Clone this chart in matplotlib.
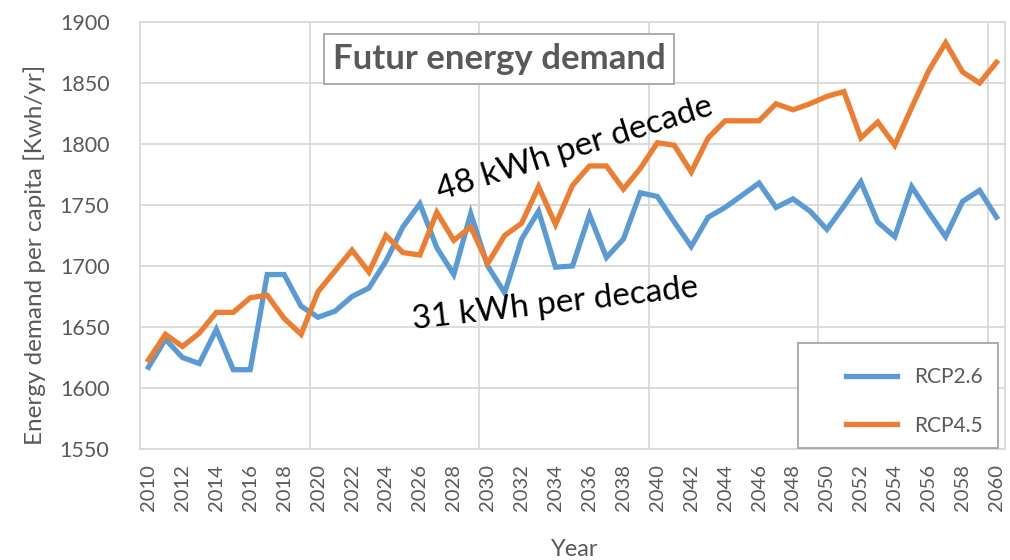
import matplotlib
matplotlib.use("Agg")
import matplotlib.pyplot as plt
import numpy as np
from matplotlib.patches import Rectangle

plt.rcParams['font.family'] = ['Lato', 'DejaVu Sans']

# data
years = np.arange(2010, 2061)

rcp26 = [1617, 1640, 1625, 1620, 1648, 1615, 1615, 1693, 1693, 1667,
         1658, 1663, 1675, 1682, 1704, 1732, 1751, 1715, 1693, 1743,
         1700, 1678, 1722, 1745, 1699, 1700, 1742, 1707, 1722, 1760,
         1757, 1736, 1716, 1740, 1748, 1758, 1768, 1748, 1755, 1745,
         1730, 1749, 1769, 1736, 1724, 1765, 1744, 1724, 1753, 1762,
         1740]

rcp45 = [1623, 1644, 1634, 1645, 1662, 1662, 1674, 1676, 1657, 1644,
         1679, 1696, 1713, 1695, 1725, 1711, 1709, 1744, 1721, 1732,
         1702, 1725, 1735, 1765, 1734, 1766, 1782, 1782, 1763, 1780,
         1801, 1799, 1777, 1805, 1819, 1819, 1819, 1833, 1828, 1833,
         1839, 1843, 1805, 1818, 1799, 1830, 1860, 1883, 1859, 1850,
         1867]

series_names = ['RCP2.6', 'RCP4.5']
colors = ['#5b9bd5', '#ed7d31']
grey = '#595959'
gridc = '#d9d9d9'

fig = plt.figure(figsize=(10.1, 5.6), dpi=100)
ax = fig.add_axes([140/1010, 1-449/560, (1005-140)/1010, (449-22)/560])

ax.plot(years, rcp26, color=colors[0], lw=3.8, label=series_names[0], solid_joinstyle='miter')
ax.plot(years, rcp45, color=colors[1], lw=3.8, label=series_names[1], solid_joinstyle='miter')

ax.set_xlim(2009.5, 2060.5)
ax.set_ylim(1550, 1900)
ax.set_yticks(np.arange(1550, 1901, 50))
ax.set_xticks(years[::2])
ax.set_xticklabels([str(y) for y in years[::2]], rotation=90)
ax.set_xticks(np.arange(2019.5, 2061, 10), minor=True)
ax.tick_params(axis='y', length=0, pad=22, labelsize=15.5, labelcolor=grey)
ax.tick_params(axis='x', which='major', length=0, pad=11, labelsize=14.5, labelcolor=grey)
ax.tick_params(axis='x', which='minor', length=0)
ax.grid(axis='y', color=gridc, lw=1.3)
ax.grid(axis='x', which='minor', color=gridc, lw=1.3)
ax.set_axisbelow(True)
for s in ax.spines.values():
    s.set_color(gridc)
    s.set_linewidth(1.3)

fig.text(35/1010, 1-255/560, 'Energy demand per capita [Kwh/yr]', rotation=90,
         ha='center', va='center', fontsize=17.5, color=grey)
fig.text(575/1010, 1-549/560, 'Year', ha='center', va='center', fontsize=17, color=grey)

# title box
fig.text(499/1010, 1-59/560, 'Futur energy demand', ha='center', va='center',
         fontsize=25, fontweight='bold', color=grey,
         bbox=dict(boxstyle='square,pad=0.25', fc='white', ec='#a6a6a6', lw=1.3))

# trend annotations
ax.text(2035.15, 1796.5, '48 kWh per decade', rotation=17.4, rotation_mode='anchor',
        ha='center', va='center', fontsize=24, color='black')
ax.text(2033.97, 1669, '31 kWh per decade', rotation=6.5, rotation_mode='anchor',
        ha='center', va='center', fontsize=24, color='black')

# legend
fig.add_artist(Rectangle((798/1010, 1-448/560), 200/1010, 105/560, transform=fig.transFigure,
                         fc='white', ec='#a6a6a6', lw=1.3, zorder=4))
leg = fig.legend(loc='upper left', bbox_to_anchor=(836/1010, 1-357/560), frameon=False,
                 borderpad=0, handlelength=2.45, handletextpad=0.8, labelspacing=1.35,
                 fontsize=15, labelcolor=grey)
leg.set_zorder(5)

fig.savefig('out.png', dpi=100)
